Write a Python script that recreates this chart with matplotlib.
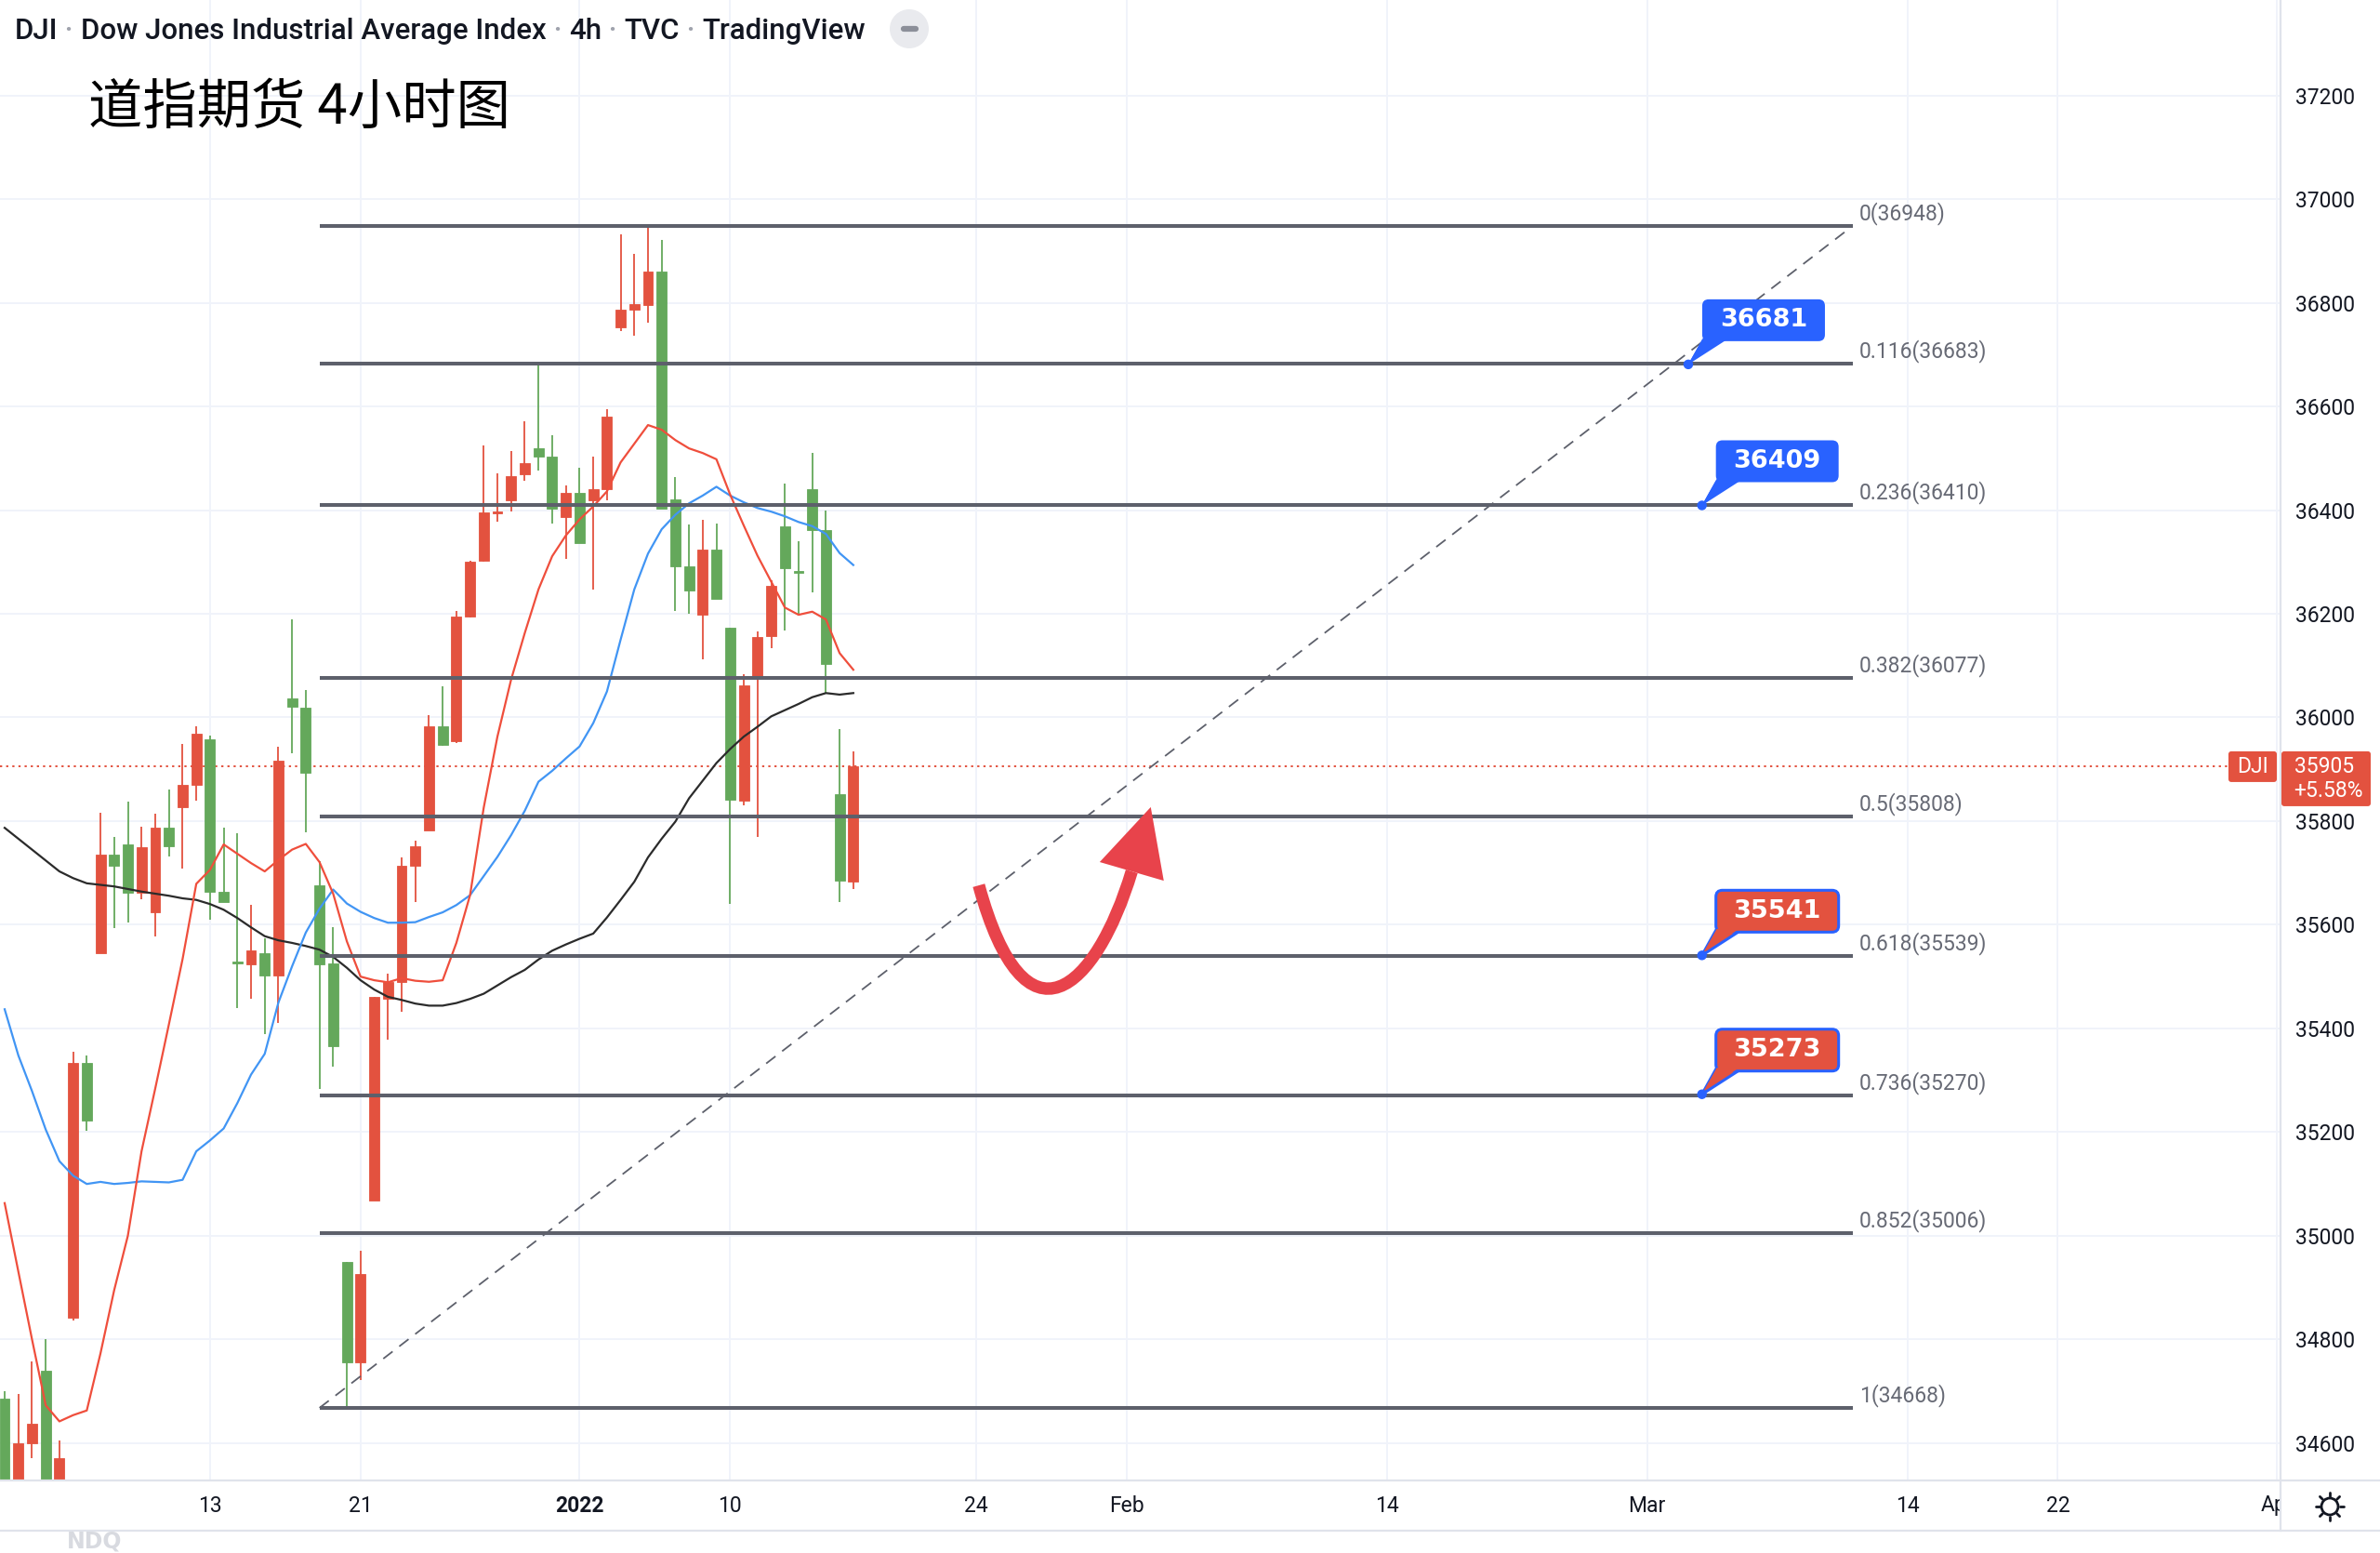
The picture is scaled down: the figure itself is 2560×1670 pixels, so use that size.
import numpy as np
import matplotlib
matplotlib.use("Agg")
import matplotlib.pyplot as plt
from matplotlib.patches import FancyBboxPatch, Polygon, Circle, PathPatch
from matplotlib.lines import Line2D
from matplotlib.path import Path
import matplotlib.transforms as mtransforms

# ---------------- data ----------------
# 4h candles (index 0 = first visible bar)
opens = [34686, 34480, 34600, 34740, 34500, 34842, 35334, 35545, 35735, 35755,
         35662, 35625, 35788, 35827, 35869, 35957, 35664, 35527, 35524, 35546,
         35502, 36036, 36018, 35677, 35525, 34950, 34755, 35068, 35458, 35490,
         35714, 35782, 35983, 35954, 36195, 36302, 36393, 36419, 36469, 36519,
         36503, 36386, 36434, 36419, 36440, 36753, 36787, 36795, 36861, 36421,
         36292, 36198, 36323, 36173, 35840, 36076, 36157, 36369, 36283, 36441,
         36361, 35852, 35684]
highs = [34700, 34694, 34758, 34800, 34605, 35355, 35348, 35816, 35769, 35837,
         35790, 35814, 35861, 35948, 35983, 35965, 35788, 35777, 35639, 35574,
         35943, 36189, 36052, 35722, 35595, 34950, 34971, 35460, 35506, 35730,
         35762, 36004, 36060, 36205, 36302, 36524, 36471, 36514, 36572, 36683,
         36544, 36447, 36482, 36503, 36595, 36932, 36895, 36948, 36922, 36463,
         36372, 36382, 36374, 36173, 36083, 36166, 36265, 36452, 36340, 36511,
         36400, 35978, 35935]
lows = [34440, 34460, 34571, 34450, 34480, 34837, 35202, 35545, 35593, 35604,
        35650, 35577, 35732, 35709, 35840, 35609, 35643, 35440, 35458, 35390,
        35411, 35931, 35778, 35284, 35327, 34668, 34721, 35068, 35379, 35432,
        35643, 35782, 35945, 35950, 36193, 36300, 36377, 36397, 36456, 36477,
        36374, 36305, 36337, 36247, 36419, 36746, 36737, 36761, 36403, 36205,
        36200, 36112, 36228, 35641, 35831, 35770, 36134, 36168, 36198, 36242,
        36046, 35643, 35669]
closes = [34460, 34600, 34638, 34470, 34571, 35334, 35223, 35735, 35714, 35662,
          35750, 35787, 35751, 35869, 35969, 35664, 35643, 35525, 35550, 35502,
          35917, 36021, 35894, 35524, 35366, 34755, 34926, 35460, 35490, 35714,
          35751, 35983, 35947, 36195, 36300, 36395, 36398, 36466, 36490, 36503,
          36402, 36434, 36337, 36440, 36581, 36787, 36797, 36861, 36403, 36292,
          36245, 36323, 36228, 35842, 36062, 36155, 36253, 36287, 36279, 36361,
          36103, 35686, 35905]

# moving averages drawn with the candles
ma_fast = [35063, 34931, 34800, 34673, 34642, 34654, 34663, 34773, 34895, 35000,
           35163, 35284, 35408, 35534, 35679, 35706, 35755, 35737, 35719, 35703,
           35725, 35745, 35756, 35721, 35660, 35568, 35500, 35493, 35489, 35497,
           35492, 35490, 35493, 35565, 35657, 35826, 35963, 36073, 36163, 36247,
           36311, 36351, 36382, 36407, 36436, 36492, 36528, 36564, 36555, 36535,
           36519, 36510, 36498, 36430, 36370, 36312, 36262, 36212, 36198, 36204,
           36189, 36124, 36092]
ma_mid = [35437, 35348, 35279, 35205, 35144, 35116, 35100, 35104, 35100, 35102,
          35105, 35104, 35103, 35108, 35163, 35184, 35207, 35256, 35311, 35351,
          35450, 35520, 35585, 35631, 35668, 35641, 35625, 35613, 35604, 35604,
          35605, 35615, 35624, 35638, 35657, 35694, 35731, 35773, 35820, 35876,
          35897, 35921, 35944, 35989, 36050, 36150, 36247, 36316, 36363, 36391,
          36413, 36428, 36445, 36428, 36415, 36404, 36397, 36388, 36377, 36369,
          36354, 36317, 36294]
ma_slow = [35787, 35766, 35745, 35724, 35703, 35690, 35680, 35677, 35674, 35669,
           35664, 35660, 35656, 35651, 35648, 35640, 35629, 35613, 35595, 35578,
           35570, 35565, 35559, 35552, 35538, 35517, 35493, 35475, 35461, 35455,
           35448, 35444, 35444, 35449, 35457, 35467, 35483, 35499, 35513, 35533,
           35550, 35562, 35573, 35583, 35614, 35648, 35683, 35730, 35766, 35799,
           35844, 35878, 35912, 35939, 35963, 35982, 36002, 36014, 36026, 36039,
           36047, 36044, 36047]

# time scale
date_labels = ["13", "21", "2022", "10", "24", "Feb", "14", "Mar", "14", "22", "Apr"]
date_bars = [15, 26, 42, 53, 71, 82, 101, 120, 139, 150, 166]

# price scale
price_ticks = [34600, 34800, 35000, 35200, 35400, 35600, 35800,
               36000, 36200, 36400, 36600, 36800, 37000, 37200]

# Fibonacci retracement
fib_ratios = ["0", "0.116", "0.236", "0.382", "0.5", "0.618", "0.736", "0.852", "1"]
fib_prices = [36948, 36683, 36410, 36077, 35808, 35539, 35270, 35006, 34668]
fib_start_bar, fib_end_bar = 23, 135

# price callouts
callout_values = [36681, 36409, 35541, 35273]
callout_bars = [123.0, 124.0, 124.0, 124.0]
callout_fill = ["blue", "blue", "red", "red"]

last_price = 35905
last_change = "+5.58%"
symbol = "DJI"
title_cn = "道指期货 4小时图"

# ---------------- style ----------------
W, H = 2560, 1670
PLOT_R, PLOT_B, STRIP_B = 2452, 1592, 1646
RED = "#e3523f"
GREEN = "#64a85b"
TV_BLUE = "#2962ff"
FIB_GREY = "#5d606b"
GRID = "#f0f3fa"
BORDER = "#e0e3eb"
TXT = "#131722"
ARROW_RED = "#e8434b"

UI_FONT = "Roboto"
UI_SIZE = 16.5

fig = plt.figure(figsize=(W / 100, H / 100), dpi=100)
fig.patch.set_facecolor("white")
PX = mtransforms.IdentityTransform()


def top(y):
    """y measured from the top edge -> display coordinates"""
    return H - y


ax = fig.add_axes([0, 1 - PLOT_B / H, PLOT_R / W, PLOT_B / H])
ax.set_facecolor("white")
ax.set_xlim(-0.34, 166.2)
ax.set_ylim(34528, 37384)
for s in ax.spines.values():
    s.set_visible(False)
ax.set_xticks([])
ax.yaxis.tick_right()
ax.set_yticks(price_ticks)
ax.set_yticklabels([str(p) for p in price_ticks])
ax.tick_params(axis="y", length=0, pad=12, labelsize=UI_SIZE, labelcolor=TXT)
for lbl in ax.get_yticklabels():
    lbl.set_family(UI_FONT)

# grid
for p in price_ticks:
    ax.axhline(p, color=GRID, lw=1.4, zorder=0)
for b in date_bars:
    ax.axvline(b, color=GRID, lw=1.4, zorder=0)

# candles
x = np.arange(len(opens))
o, hi, lo, c = (np.array(v, dtype=float) for v in (opens, highs, lows, closes))
col = np.where(c >= o, RED, GREEN)
ax.vlines(x, lo, hi, colors=col, lw=1.3, zorder=3)
ax.bar(x, np.maximum(np.abs(c - o), 4), bottom=np.minimum(o, c), width=0.74,
       color=col, edgecolor=col, lw=0.6, zorder=4)

# moving averages
ax.plot(x, ma_slow, color="#2b2b2b", lw=1.6, zorder=5)
ax.plot(x, ma_mid, color="#4195f4", lw=1.6, zorder=5)
ax.plot(x, ma_fast, color="#ef4e3c", lw=1.6, zorder=5)

# last price line
ax.axhline(last_price, color=RED, lw=1.4, ls=(0, (1.2, 2.2)), zorder=2)

# Fibonacci levels
ax.hlines(fib_prices, fib_start_bar, fib_end_bar, color=FIB_GREY, lw=2.9, zorder=6)
ax.plot([fib_start_bar, fib_end_bar], [fib_prices[-1], fib_prices[0]],
        color=FIB_GREY, lw=1.3, ls=(0, (7, 5)), zorder=6)
for r, p in zip(fib_ratios, fib_prices):
    ax.annotate(f"{r}({p})", xy=(fib_end_bar, p), xytext=(7, 1),
                textcoords="offset pixels", ha="left", va="bottom",
                fontsize=UI_SIZE, color="#676a75", family=UI_FONT,
                annotation_clip=False, zorder=7)

# rebound arrow
shaft = Path([(71.17, 35676), (74.56, 35348), (79.72, 35474), (82.34, 35703)],
             [Path.MOVETO, Path.CURVE4, Path.CURVE4, Path.CURVE4])
ax.add_patch(PathPatch(shaft, fill=False, edgecolor=ARROW_RED, lw=9.6,
                       capstyle="butt", zorder=9))
ax.add_patch(Polygon([(80.0, 35721), (84.68, 35685), (83.73, 35827)],
                     closed=True, facecolor=ARROW_RED, edgecolor="none", zorder=9))

# price callouts
for bar, val, kind in zip(callout_bars, callout_values, callout_fill):
    tr = PX + mtransforms.ScaledTranslation(bar, val, ax.transData)
    face = TV_BLUE if kind == "blue" else RED
    lw = 0 if kind == "blue" else 2.2
    ax.add_patch(Polygon([(0, 0), (15, 27), (42, 27)], closed=True, transform=tr,
                         facecolor=face, edgecolor=TV_BLUE, lw=lw, zorder=10,
                         clip_on=False))
    ax.add_patch(FancyBboxPatch((15, 25), 132, 45,
                                boxstyle="round,pad=0,rounding_size=7",
                                transform=tr, facecolor=face, edgecolor=TV_BLUE,
                                lw=lw, zorder=11, clip_on=False))
    ax.add_patch(Polygon([(1.5, 3), (16, 28.5), (40, 28.5)], closed=True, transform=tr,
                         facecolor=face, edgecolor="none", zorder=11.5, clip_on=False))
    ax.add_patch(Circle((0, 0), 4.5, transform=tr, color=TV_BLUE, zorder=12,
                        clip_on=False))
    ax.text(81, 47.5, str(val), transform=tr, ha="center", va="center",
            color="white", fontsize=19.5, fontweight="bold", family="DejaVu Sans",
            zorder=13, clip_on=False)

# time scale strip
axt = fig.add_axes([0, 1 - STRIP_B / H, PLOT_R / W, (STRIP_B - PLOT_B) / H])
axt.set_xlim(ax.get_xlim())
axt.set_ylim(0, 1)
axt.axis("off")
for b, s in zip(date_bars, date_labels):
    axt.text(b, 0.5, s, ha="center", va="center", fontsize=UI_SIZE, color=TXT,
             family=UI_FONT, fontweight="bold" if s == "2022" else "normal",
             clip_on=True)

# panel borders
fig.add_artist(Line2D([0, W], [top(PLOT_B), top(PLOT_B)], transform=PX, color=BORDER, lw=1.6))
fig.add_artist(Line2D([0, W], [top(STRIP_B), top(STRIP_B)], transform=PX, color=BORDER, lw=1.6))
fig.add_artist(Line2D([PLOT_R + 1, PLOT_R + 1], [top(0), top(STRIP_B)], transform=PX,
                      color=BORDER, lw=1.6))

# last price labels on the scale
y_last = ax.transData.transform((0, last_price))[1]
fig.add_artist(FancyBboxPatch((2397, y_last - 16.5), 52, 33,
                              boxstyle="round,pad=0,rounding_size=3", transform=PX,
                              facecolor=RED, edgecolor="none", zorder=5))
fig.text(2423, y_last, symbol, transform=PX, ha="center", va="center", color="white",
         fontsize=UI_SIZE, family=UI_FONT, zorder=6)
fig.add_artist(FancyBboxPatch((2454, y_last - 42.5), 96, 59,
                              boxstyle="round,pad=0,rounding_size=3", transform=PX,
                              facecolor=RED, edgecolor="none", zorder=5))
fig.text(2468, y_last, str(last_price), transform=PX, ha="left", va="center",
         color="white", fontsize=UI_SIZE, family=UI_FONT, zorder=6)
fig.text(2467, y_last - 26, last_change, transform=PX, ha="left", va="center",
         color="white", fontsize=UI_SIZE, family=UI_FONT, zorder=6)

# settings icon (sun-like gear)
gx, gy = 2506, top(1620)
fig.add_artist(Circle((gx, gy), 9, transform=PX, facecolor="none", edgecolor=TXT, lw=2.0))
for ang in np.deg2rad(np.arange(0, 360, 45)):
    fig.add_artist(Line2D([gx + 11 * np.cos(ang), gx + 15 * np.cos(ang)],
                          [gy + 11 * np.sin(ang), gy + 15 * np.sin(ang)],
                          transform=PX, color=TXT, lw=2.0, solid_capstyle="round"))

# faint pane label
fig.text(72, top(1657), "NDQ", transform=PX, ha="left", va="center",
         fontsize=17, color="#d8dae0", fontweight="bold", family="DejaVu Sans")

# header line, pieces chained left to right
SEP = "#a0a3ad"
pieces = [(symbol, TXT), (" \u00b7 ", SEP), ("Dow Jones Industrial Average Index", TXT),
          (" \u00b7 ", SEP), ("4h", TXT), (" \u00b7 ", SEP), ("TVC", TXT),
          (" \u00b7 ", SEP), ("TradingView", TXT)]
prev = fig.text(16, top(33), pieces[0][0], transform=PX, ha="left", va="center",
                fontsize=22.5, color=pieces[0][1], family=UI_FONT, fontweight="medium")
for s, cl in pieces[1:]:
    prev = fig.add_artist(matplotlib.text.Annotation(
        s, xy=(1, 0), xycoords=prev, ha="left", va="bottom",
        fontsize=22.5, color=cl, family=UI_FONT, fontweight="medium"))

# header button
fig.add_artist(Circle((978, top(31)), 21, transform=PX, facecolor="#e9eaee",
                      edgecolor="none"))
fig.add_artist(Line2D([972, 985], [top(31), top(31)], transform=PX, color="#8c8f99",
                      lw=4.5, solid_capstyle="round"))

# chart title
fig.text(95, top(116), title_cn, transform=PX, ha="left", va="center", fontsize=42,
         color="black", family=["Noto Sans CJK SC", "DejaVu Sans"])

fig.savefig("out.png", dpi=100, facecolor="white")
